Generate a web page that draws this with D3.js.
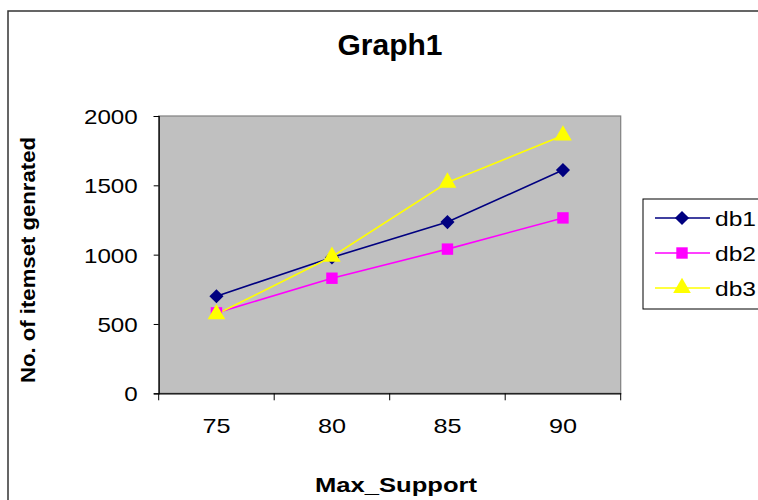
<!DOCTYPE html>
<html lang="en">
<head>
<meta charset="utf-8">
<title>Graph1</title>
<script src="https://d3js.org/d3.v7.min.js"></script>
<style>
  body { margin: 0; background: #fff; }
  text { font-family: "Liberation Sans", Arial, sans-serif; fill: #000; }
</style>
</head>
<body>
<script>
// data
var categories = ["75", "80", "85", "90"];
var db1 = [700, 980, 1235, 1610];
var db2 = [580, 830, 1040, 1265];
var db3 = [570, 985, 1520, 1860];
var seriesNames = ["db1", "db2", "db3"];
var yTicks = [0, 500, 1000, 1500, 2000];

var w = 758, h = 500;
var svg = d3.select("body").append("svg").attr("width", w).attr("height", h);

// outer chart border (runs off the right and bottom)
svg.append("rect").attr("x", 8).attr("y", 11).attr("width", 780).attr("height", 520)
  .attr("fill", "none").attr("stroke", "#333").attr("stroke-width", 1.5);

var plot = {left: 158.7, right: 620.7, top: 116, bottom: 393.3};

var x = d3.scaleBand().domain(categories).range([plot.left, plot.right]).padding(0);
var y = d3.scaleLinear().domain([0, 2000]).range([plot.bottom, plot.top]);

// plot area
svg.append("rect").attr("x", plot.left).attr("y", plot.top)
  .attr("width", plot.right - plot.left).attr("height", plot.bottom - plot.top)
  .attr("fill", "#c0c0c0").attr("stroke", "#808080").attr("stroke-width", 1.2);

// stretch helper, the original text is a little wider than Arial
function stretch(sel, k) {
  sel.each(function() {
    var len = this.getComputedTextLength();
    d3.select(this).attr("textLength", len * k).attr("lengthAdjust", "spacingAndGlyphs");
  });
}

// y axis
var yAxis = d3.axisLeft(y).tickValues(yTicks).tickSize(5).tickPadding(0).tickFormat(d3.format("d"));
var gy = svg.append("g").attr("transform", "translate(" + plot.left + ",0)").call(yAxis);
gy.select(".domain").attr("stroke", "#000").attr("stroke-width", 1.2);
gy.selectAll(".tick line").attr("stroke", "#000");
gy.selectAll(".tick text").attr("x", -21).attr("dy", "0.35em")
  .style("font-size", "21px").style("font-family", "Liberation Sans, Arial, sans-serif")
  .attr("fill", "#000").call(stretch, 1.15);

// x axis, ticks sit on the band edges
var xAxis = d3.axisBottom(x).tickSize(0).tickPadding(0);
var gx = svg.append("g").attr("transform", "translate(0," + plot.bottom + ")").call(xAxis);
gx.select(".domain").attr("stroke", "#000").attr("stroke-width", 1.2);
gx.selectAll(".tick text").attr("y", 40).attr("dy", 0)
  .style("font-size", "21px").style("font-family", "Liberation Sans, Arial, sans-serif")
  .attr("fill", "#000").call(stretch, 1.2);
var edges = categories.map(function(c) { return x(c); }).concat([x.range()[1]]);
gx.selectAll("line.edge").data(edges).enter().append("line").attr("class", "edge")
  .attr("x1", function(d) { return d; }).attr("x2", function(d) { return d; })
  .attr("y1", 0).attr("y2", 7).attr("stroke", "#000");

// titles
svg.append("text").attr("x", 390).attr("y", 55).attr("text-anchor", "middle")
  .style("font-size", "30px").style("font-weight", "bold").text("Graph1");

svg.append("text").attr("x", 396).attr("y", 492).attr("text-anchor", "middle")
  .style("font-size", "21px").style("font-weight", "bold")
  .attr("textLength", 162).attr("lengthAdjust", "spacingAndGlyphs").text("Max_Support");

svg.append("text").attr("transform", "translate(34.5,260) rotate(-90)").attr("text-anchor", "middle")
  .style("font-size", "20px").style("font-weight", "bold")
  .attr("textLength", 246).attr("lengthAdjust", "spacingAndGlyphs").text("No. of itemset genrated");

// series (diamond = square turned 45deg, like excel)
var series = [
  {name: seriesNames[0], values: db1, color: "#000080", symbol: d3.symbolSquare, size: 100, rot: 45},
  {name: seriesNames[1], values: db2, color: "#ff00ff", symbol: d3.symbolSquare, size: 130, rot: 0},
  {name: seriesNames[2], values: db3, color: "#ffff00", symbol: d3.symbolTriangle, size: 135, rot: 0}
];

var cx = function(i) { return x(categories[i]) + x.bandwidth() / 2; };
var line = d3.line().x(function(d, i) { return cx(i); }).y(function(d) { return y(d); });

series.forEach(function(s) {
  svg.append("path").datum(s.values).attr("d", line)
    .attr("fill", "none").attr("stroke", s.color).attr("stroke-width", 1.6);
});
series.forEach(function(s) {
  svg.selectAll(null).data(s.values).enter().append("path")
    .attr("transform", function(d, i) { return "translate(" + cx(i) + "," + y(d) + ") rotate(" + s.rot + ")"; })
    .attr("d", d3.symbol().type(s.symbol).size(s.size))
    .attr("fill", s.color);
});

// legend
var lg = svg.append("g");
lg.append("rect").attr("x", 643).attr("y", 199).attr("width", 130).attr("height", 110)
  .attr("fill", "#fff").attr("stroke", "#000").attr("stroke-width", 1);
series.forEach(function(s, i) {
  var ly = 218 + i * 35;
  lg.append("line").attr("x1", 655).attr("x2", 710).attr("y1", ly).attr("y2", ly)
    .attr("stroke", s.color).attr("stroke-width", 1.6);
  lg.append("path").attr("transform", "translate(682," + ly + ") rotate(" + s.rot + ")")
    .attr("d", d3.symbol().type(s.symbol).size(s.size)).attr("fill", s.color);
  lg.append("text").attr("x", 715).attr("y", ly).attr("dy", "0.36em")
    .style("font-size", "21px").attr("textLength", 41).attr("lengthAdjust", "spacingAndGlyphs")
    .text(s.name);
});
</script>
</body>
</html>
